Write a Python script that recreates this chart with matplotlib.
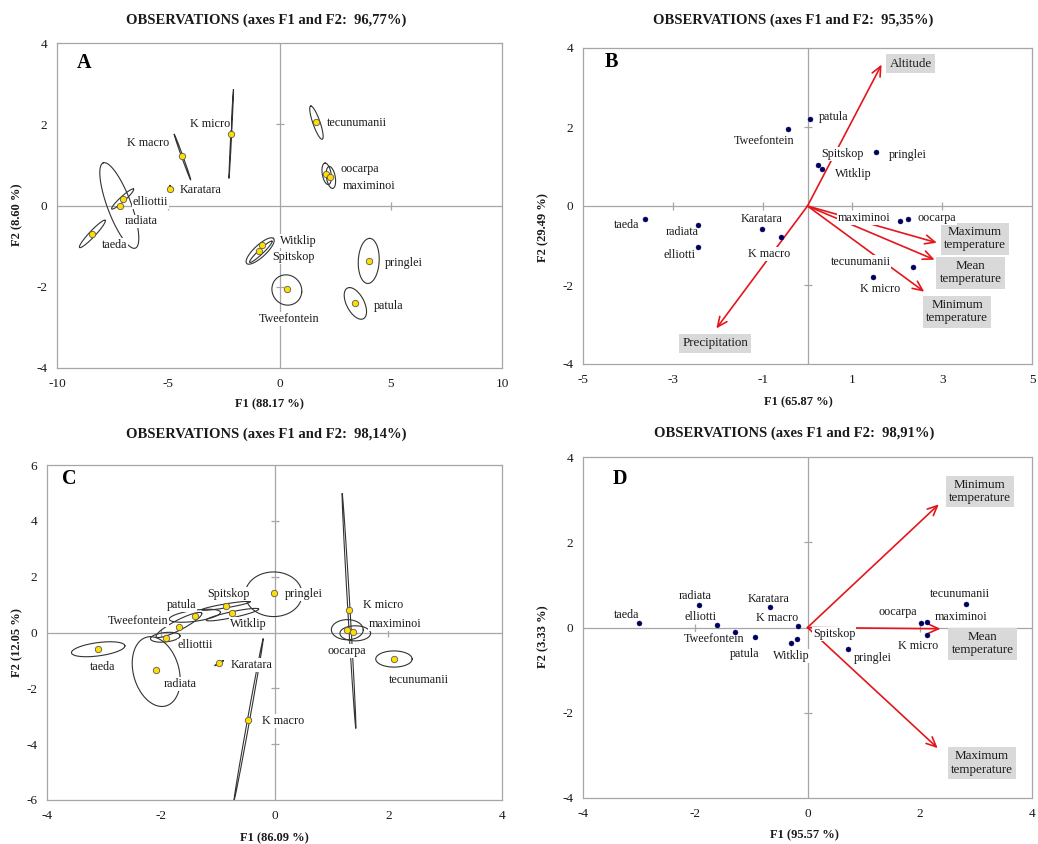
import numpy as np
import matplotlib
matplotlib.use('Agg')
import matplotlib.pyplot as plt

plt.rcParams['font.family'] = ['Liberation Serif', 'DejaVu Serif']
plt.rcParams['axes.unicode_minus'] = False

# ---------------- Panel A data ----------------
a_names = ['K micro', 'K macro', 'Karatara', 'elliottii', 'radiata', 'taeda', 'tecunumanii',
           'oocarpa', 'maximinoi', 'Witklip', 'Spitskop', 'pringlei', 'Tweefontein', 'patula']
a_f1 = [-2.17, -4.37, -4.94, -7.05, -7.18, -8.41, 1.63, 2.09, 2.27, -0.79, -0.93, 4.02, 0.33, 3.41]
a_f2 = [1.77, 1.21, 0.41, 0.16, 0.00, -0.69, 2.06, 0.78, 0.69, -0.97, -1.13, -1.37, -2.06, -2.40]
# confidence ellipses: centre (cx, cy) and two conjugate semi-axis vectors (ax, ay), (bx, by)
a_ell = [(-2.17, 1.76, 0.10, 1.09, 0.02, 0.0),
         (-4.36, 1.19, -0.37, 0.56, 0.025, 0.015),
         (-4.94, 0.43, 0.02, 0.06, 0.02, 0.0),
         (-7.05, 0.16, 0.49, 0.245, 0.076, -0.045),
         (-7.20, 0.00, -0.72, 1.05, 0.50, 0.10),
         (-8.41, -0.70, 0.575, 0.335, 0.10, -0.05),
         (1.66, 2.04, -0.25, 0.41, 0.17, 0.0),
         (2.12, 0.78, -0.07, 0.265, 0.20, 0.0),
         (2.31, 0.69, -0.07, 0.27, 0.20, 0.0),
         (-0.84, -1.14, 0.50, 0.26, 0.08, -0.04),
         (-0.87, -1.12, 0.60, 0.31, 0.20, -0.10),
         (4.01, -1.365, 0.04, 0.555, 0.47, 0.0),
         (0.33, -2.08, 0.67, -0.05, 0.05, 0.37),
         (3.41, -2.41, -0.26, 0.39, 0.43, 0.0)]
a_lab_off = [(-21, 10), (-34, 13), (31, -1), (28, -3), (21, -16), (22, -11), (41, -1),
             (34, 5), (39, -9), (36, 4), (35, -6), (35, -2), (2, -30), (33, -3)]

# ---------------- Panel B data ----------------
b_names = ['patula', 'Tweefontein', 'pringlei', 'Spitskop', 'Witklip', 'taeda', 'radiata',
           'elliotti', 'Karatara', 'K macro', 'maximinoi', 'oocarpa', 'tecunumanii', 'K micro']
b_f1 = [0.06, -0.43, 1.52, 0.24, 0.32, -3.63, -2.43, -2.43, -1.02, -0.60, 2.07, 2.24, 2.36, 1.45]
b_f2 = [2.21, 1.95, 1.36, 1.03, 0.93, -0.34, -0.48, -1.03, -0.57, -0.79, -0.38, -0.34, -1.54, -1.80]
b_lab_off = [(23, 2), (-24, -12), (32, -3), (24, 11), (31, -5), (-18, -6), (-16, -7),
             (-19, -8), (0, 10), (-11, -17), (-36, 3), (29, 1), (-53, 5), (8, -12)]
b_vars = ['Altitude', 'Precipitation', 'Maximum\ntemperature', 'Mean\ntemperature', 'Minimum\ntemperature']
b_vx = [1.65, -2.03, 2.88, 2.83, 2.60]
b_vy = [3.58, -3.10, -0.93, -1.36, -2.17]
b_var_off = [(29, 1), (-1, -15), (38, 4), (36, -13), (33, -20)]

# ---------------- Panel C data ----------------
c_names = ['taeda', 'radiata', 'elliottii', 'Tweefontein', 'patula', 'Spitskop', 'Witklip',
           'pringlei', 'Karatara', 'K macro', 'K micro', 'oocarpa', 'maximinoi', 'tecunumanii']
c_f1 = [-3.11, -2.08, -1.90, -1.68, -1.39, -0.86, -0.74, -0.01, -0.97, -0.46, 1.31, 1.27, 1.38, 2.10]
c_f2 = [-0.60, -1.34, -0.21, 0.21, 0.58, 0.96, 0.69, 1.40, -1.10, -3.13, 0.79, 0.10, 0.03, -0.94]
c_ell = [(-3.10, -0.60, 0.47, 0.12, 0.0, 0.24),
         (-2.08, -1.40, -0.10, 1.25, 0.41, 0.0),
         (-1.92, -0.17, 0.26, 0.05, 0.0, 0.17),
         (-1.68, 0.27, 0.40, 0.42, 0.04, -0.16),
         (-1.40, 0.60, 0.45, 0.12, 0.0, 0.20),
         (-0.855, 0.955, 0.425, 0.145, 0.006, -0.07),
         (-0.74, 0.64, 0.46, 0.20, 0.02, -0.10),
         (-0.015, 1.37, 0.50, 0.0, 0.0, 0.80),
         (-0.975, -1.10, 0.075, 0.09, 0.01, -0.01),
         (-0.455, -3.12, 0.255, 2.885, 0.02, 0.0),
         (1.31, 0.765, -0.12, 4.20, 0.02, 0.0),
         (1.28, 0.10, 0.28, 0.0, 0.0, 0.36),
         (1.42, -0.03, 0.27, 0.0, 0.0, 0.27),
         (2.10, -0.95, 0.32, 0.0, 0.0, 0.29)]
c_lab_off = [(5, -18), (24, -14), (29, -7), (-41, 6), (-14, 11), (3, 12), (16, -11),
             (30, -1), (32, -2), (35, -1), (34, 5), (0, -21), (42, 8), (25, -21)]

# ---------------- Panel D data ----------------
d_names = ['taeda', 'radiata', 'elliotti', 'Tweefontein', 'patula', 'Karatara', 'K macro',
           'Spitskop', 'Witklip', 'pringlei', 'oocarpa', 'maximinoi', 'K micro', 'tecunumanii']
d_f1 = [-3.00, -1.93, -1.61, -1.30, -0.94, -0.67, -0.17, -0.18, -0.29, 0.73, 2.02, 2.13, 2.13, 2.82]
d_f2 = [0.11, 0.52, 0.06, -0.11, -0.23, 0.48, 0.04, -0.27, -0.37, -0.51, 0.10, 0.13, -0.18, 0.55]
d_lab_off = [(-13, 8), (-4, 9), (-17, 8), (-20, -7), (-10, -17), (-1, 8), (-21, 8),
             (37, 5), (0, -13), (24, -9), (-23, 11), (34, 5), (-9, -11), (-6, 10)]
d_vars = ['Minimum\ntemperature', 'Mean\ntemperature', 'Maximum\ntemperature']
d_vx = [2.34, 2.37, 2.32]
d_vy = [2.89, -0.03, -2.83]
d_var_off = [(41, 13), (42, -15), (44, -15)]

# ---------------- drawing ----------------
W, H = 1038, 844
fig = plt.figure(figsize=(W / 100, H / 100), dpi=100)
GRAY = '#a6a6a6'
RED = '#e4161c'
TXT = '#1a1a1a'


def px_axes(l, t, r, b):
    return fig.add_axes([l / W, 1 - b / H, (r - l) / W, (b - t) / H])


def setup(ax, xlim, ylim, xticks, yticks, letter, lx, ly):
    ax.set_xlim(*xlim)
    ax.set_ylim(*ylim)
    ax.set_xticks(xticks)
    ax.set_yticks(yticks)
    ax.set_xticklabels([str(t) for t in xticks])
    ax.set_yticklabels([str(t) for t in yticks])
    ax.tick_params(length=0, labelsize=9.5, pad=7, colors=TXT)
    for s in ax.spines.values():
        s.set_color(GRAY)
        s.set_linewidth(0.9)
    ax.axhline(0, color=GRAY, lw=0.9, zorder=1)
    ax.axvline(0, color=GRAY, lw=0.9, zorder=1)
    xt = [t for t in xticks[1:-1] if t != 0]
    yt = [t for t in yticks[1:-1] if t != 0]
    ax.plot(xt, [0] * len(xt), ls='none', marker='|', ms=6, mew=0.9, color=GRAY, zorder=1)
    ax.plot([0] * len(yt), yt, ls='none', marker='_', ms=6, mew=0.9, color=GRAY, zorder=1)
    ax.text(lx, ly, letter, transform=ax.transAxes, fontsize=14.5, fontweight='bold',
            ha='left', va='center', color='black')


def draw_ellipses(ax, ells):
    t = np.linspace(0, 2 * np.pi, 240)
    for cx, cy, axx, ayy, bxx, byy in ells:
        ax.plot(cx + axx * np.cos(t) + bxx * np.sin(t),
                cy + ayy * np.cos(t) + byy * np.sin(t),
                color='#333333', lw=0.8, zorder=2)


def draw_points(ax, names, xs, ys, offs, style):
    if style == 'yellow':
        ax.plot(xs, ys, ls='none', marker='o', ms=4.6, mfc='#ffdd00', mec='#5a5a5a',
                mew=0.6, zorder=6)
    else:
        ax.plot(xs, ys, ls='none', marker='o', ms=3.6, mfc='#00005e', mec='#00005e',
                mew=0.3, zorder=6)
    for n, x, y, o in zip(names, xs, ys, offs):
        ax.annotate(n, (x, y), xytext=o, textcoords='offset pixels', ha='center', va='center',
                    fontsize=8.7, color=TXT, zorder=5,
                    bbox=dict(fc='white', ec='none', pad=0.6))


def draw_vectors(ax, names, vx, vy, offs):
    for n, x, y, o in zip(names, vx, vy, offs):
        ax.annotate('', xy=(x, y), xytext=(0, 0),
                    arrowprops=dict(arrowstyle='->,head_length=0.7,head_width=0.32',
                                    color=RED, lw=1.2, shrinkA=0, shrinkB=0), zorder=3)
        ax.annotate(n, (x, y), xytext=o, textcoords='offset pixels', ha='center', va='center',
                    fontsize=9.4, color=TXT, zorder=5, linespacing=1.15,
                    bbox=dict(fc='#d9d9d9', ec='none', pad=2.3))


def fig_text(x, y, s, **kw):
    fig.text(x / W, 1 - y / H, s, ha='center', va='center', color=TXT, **kw)


# Panel A
axA = px_axes(57, 43, 502, 368)
setup(axA, (-10, 10), (-4, 4), [-10, -5, 0, 5, 10], [-4, -2, 0, 2, 4], 'A', 0.045, 0.94)
draw_ellipses(axA, a_ell)
draw_points(axA, a_names, a_f1, a_f2, a_lab_off, 'yellow')
fig_text(266, 20, 'OBSERVATIONS (axes F1 and F2:  96,77%)', fontsize=10.5, fontweight='bold')
fig_text(269, 404, 'F1 (88.17 %)', fontsize=9, fontweight='bold')
fig_text(17, 215, 'F2 (8.60 %)', fontsize=9, fontweight='bold', rotation=90)

# Panel B
axB = px_axes(583, 48, 1032, 364)
setup(axB, (-5, 5), (-4, 4), [-5, -3, -1, 1, 3, 5], [-4, -2, 0, 2, 4], 'B', 0.049, 0.955)
draw_vectors(axB, b_vars, b_vx, b_vy, b_var_off)
draw_points(axB, b_names, b_f1, b_f2, b_lab_off, 'navy')
fig_text(793, 20, 'OBSERVATIONS (axes F1 and F2:  95,35%)', fontsize=10.5, fontweight='bold')
fig_text(798, 402, 'F1 (65.87 %)', fontsize=9, fontweight='bold')
fig_text(543, 228, 'F2 (29.49 %)', fontsize=9, fontweight='bold', rotation=90)

# Panel C
axC = px_axes(47, 465, 502, 800)
setup(axC, (-4, 4), (-6, 6), [-4, -2, 0, 2, 4], [-6, -4, -2, 0, 2, 4, 6], 'C', 0.033, 0.958)
draw_ellipses(axC, c_ell)
draw_points(axC, c_names, c_f1, c_f2, c_lab_off, 'yellow')
fig_text(266, 434, 'OBSERVATIONS (axes F1 and F2:  98,14%)', fontsize=10.5, fontweight='bold')
fig_text(274, 838, 'F1 (86.09 %)', fontsize=9, fontweight='bold')
fig_text(17, 643, 'F2 (12.05 %)', fontsize=9, fontweight='bold', rotation=90)

# Panel D
axD = px_axes(583, 457, 1032, 798)
setup(axD, (-4, 4), (-4, 4), [-4, -2, 0, 2, 4], [-4, -2, 0, 2, 4], 'D', 0.067, 0.935)
draw_vectors(axD, d_vars, d_vx, d_vy, d_var_off)
draw_points(axD, d_names, d_f1, d_f2, d_lab_off, 'navy')
fig_text(794, 433, 'OBSERVATIONS (axes F1 and F2:  98,91%)', fontsize=10.5, fontweight='bold')
fig_text(804, 835, 'F1 (95.57 %)', fontsize=9, fontweight='bold')
fig_text(543, 637, 'F2 (3.33 %)', fontsize=9, fontweight='bold', rotation=90)

fig.savefig('out.png', dpi=100, facecolor='white')
